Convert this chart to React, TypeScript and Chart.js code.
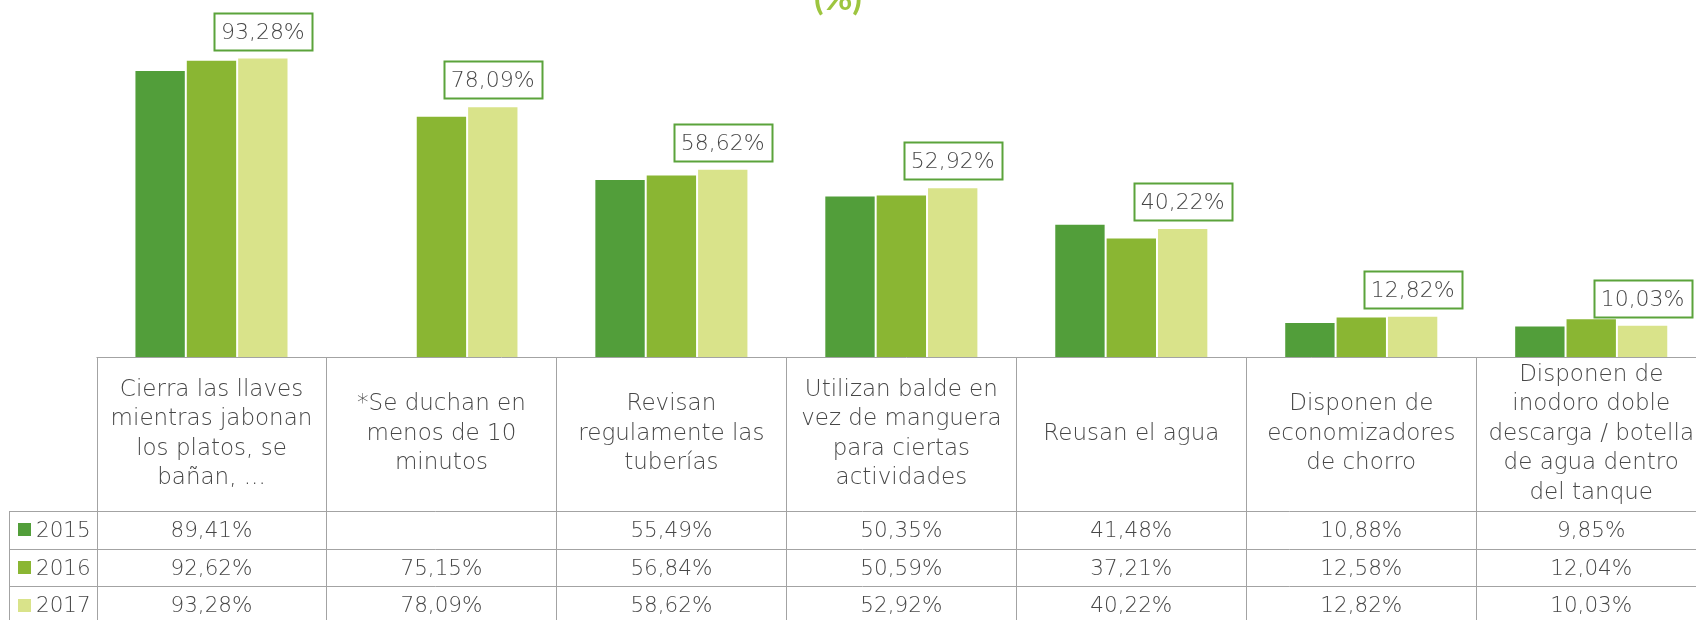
import React, { useEffect, useRef } from 'react';
import { Chart, registerables } from 'chart.js';

Chart.register(...registerables);

// ---- data ----
const categories: string[][] = [
  ['Cierra las llaves', 'mientras jabonan', 'los platos, se', 'bañan, ...'],
  ['*Se duchan en', 'menos de 10', 'minutos'],
  ['Revisan', 'regulamente las', 'tuberías'],
  ['Utilizan balde en', 'vez de manguera', 'para ciertas', 'actividades'],
  ['Reusan el agua'],
  ['Disponen de', 'economizadores', 'de chorro'],
  ['Disponen de', 'inodoro doble', 'descarga / botella', 'de agua dentro', 'del tanque'],
];
const seriesNames = ['2015', '2016', '2017'];
const values2015: (number | null)[] = [89.41, null, 55.49, 50.35, 41.48, 10.88, 9.85];
const values2016: (number | null)[] = [92.62, 75.15, 56.84, 50.59, 37.21, 12.58, 12.04];
const values2017: (number | null)[] = [93.28, 78.09, 58.62, 52.92, 40.22, 12.82, 10.03];
const seriesColors = ['#529E3A', '#8AB633', '#D9E38A'];
const titleText = '(%)';

// ---- style ----
const FONT = '"DejaVu Sans"';
const TEXT = '#474747';
const GRID = '#A3A3A3';
const LABEL_BORDER = '#5BA33B';
const TITLE_COLOR = '#9DC53F';

const fmt = (v: number | null | undefined) =>
  v == null ? '' : v.toFixed(2).replace('.', ',') + '%';

const titlePlugin = {
  id: 'clippedTitle',
  afterDraw(chart: any) {
    const ctx = chart.ctx;
    ctx.save();
    ctx.fillStyle = TITLE_COLOR;
    ctx.font = `bold 35px Lato`;
    ctx.textAlign = 'center';
    ctx.textBaseline = 'alphabetic';
    ctx.fillText(titleText, 838, 10);
    ctx.restore();
  },
};

const labelPlugin = {
  id: 'boxedLabels',
  afterDatasetsDraw(chart: any) {
    const ctx = chart.ctx;
    const dsIndex = 2;
    const meta = chart.getDatasetMeta(dsIndex);
    const data = chart.data.datasets[dsIndex].data;
    ctx.save();
    ctx.font = `200 22px ${FONT}`;
    ctx.textAlign = 'center';
    ctx.textBaseline = 'middle';
    meta.data.forEach((bar: any, i: number) => {
      const v = data[i];
      if (v == null) return;
      const txt = fmt(v);
      const tw = ctx.measureText(txt).width;
      const bw = Math.round(tw + 14);
      const bh = 37;
      const bx = Math.round(bar.x - bw / 2) + 0.5;
      const by = Math.round(bar.y - 8 - bh) + 0.5;
      ctx.fillStyle = '#FFFFFF';
      ctx.fillRect(bx, by, bw, bh);
      ctx.strokeStyle = LABEL_BORDER;
      ctx.lineWidth = 2;
      ctx.strokeRect(bx, by, bw, bh);
      ctx.fillStyle = TEXT;
      ctx.fillText(txt, bar.x, by + bh / 2 + 1);
    });
    ctx.restore();
  },
};

const tablePlugin = {
  id: 'dataTable',
  afterDraw(chart: any) {
    const ctx = chart.ctx;
    const area = chart.chartArea;
    const xScale = chart.scales.x;
    const labels = chart.data.labels as string[][];
    const n = labels.length;
    const catW = area.width / n;
    const top = area.bottom;
    const headerH = 154;
    const rowH = 37.7;
    const legendLeft = 9;
    const bottom = chart.height + 5;
    const px = (v: number) => Math.round(v) + 0.5;

    ctx.save();
    ctx.strokeStyle = GRID;
    ctx.lineWidth = 1;
    ctx.beginPath();
    ctx.moveTo(area.left, px(top));
    ctx.lineTo(chart.width, px(top));
    for (let i = 0; i <= n; i++) {
      const xx = px(area.left + i * catW);
      ctx.moveTo(xx, top);
      ctx.lineTo(xx, bottom);
    }
    for (let r = 0; r <= 3; r++) {
      const yy = px(top + headerH + r * rowH);
      ctx.moveTo(legendLeft, yy);
      ctx.lineTo(chart.width, yy);
    }
    ctx.moveTo(px(legendLeft), top + headerH);
    ctx.lineTo(px(legendLeft), bottom);
    ctx.stroke();

    // header text
    ctx.fillStyle = TEXT;
    ctx.textAlign = 'center';
    ctx.textBaseline = 'middle';
    ctx.font = `200 23px ${FONT}`;
    const lineH = 29.5;
    labels.forEach((lines, i) => {
      const cx = xScale.getPixelForValue(i);
      const cy = top + headerH / 2;
      const y0 = cy - ((lines.length - 1) * lineH) / 2;
      lines.forEach((ln, k) => ctx.fillText(ln, cx, y0 + k * lineH));
    });

    // rows
    ctx.font = `200 21.5px ${FONT}`;
    chart.data.datasets.forEach((ds: any, r: number) => {
      const cy = top + headerH + r * rowH + rowH / 2;
      ctx.fillStyle = ds.backgroundColor;
      ctx.fillRect(18, Math.round(cy - 6.5), 13, 13);
      ctx.fillStyle = TEXT;
      ctx.textAlign = 'left';
      ctx.fillText(ds.label, 36, cy + 1.5);
      ctx.textAlign = 'center';
      ds.data.forEach((v: number | null, i: number) => {
        ctx.fillText(fmt(v), xScale.getPixelForValue(i), cy + 1.5);
      });
    });
    ctx.restore();
  },
};

export default function App() {
  const ref = useRef<HTMLCanvasElement | null>(null);
  useEffect(() => {
    if (!ref.current) return;
    const seriesValues = [values2015, values2016, values2017];
    const chart = new Chart(ref.current, {
      type: 'bar',
      data: {
        labels: categories,
        datasets: seriesNames.map((name, i) => ({
          label: name,
          data: seriesValues[i],
          backgroundColor: seriesColors[i],
          borderColor: 'rgba(255,255,255,0.3)',
          borderWidth: 1,
          categoryPercentage: 0.67,
          barPercentage: 1,
        })),
      },
      options: {
        responsive: false,
        animation: false,
        devicePixelRatio: 1,
        layout: { padding: { left: 96.5, right: 9.8, top: 36, bottom: 263 } },
        plugins: {
          legend: { display: false },
          tooltip: { enabled: false },
          title: { display: false },
        },
        scales: {
          x: { display: false },
          y: { display: false, min: 0, max: 100 },
        },
      },
      plugins: [labelPlugin, tablePlugin, titlePlugin],
    });
    return () => chart.destroy();
  }, []);

  return (
    <div
      style={{
        position: 'fixed',
        left: 0,
        top: 0,
        width: 1696,
        height: 620,
        overflow: 'hidden',
        background: '#FFFFFF',
      }}
    >
      <canvas ref={ref} width={1716} height={620} style={{ display: 'block' }} />
    </div>
  );
}
